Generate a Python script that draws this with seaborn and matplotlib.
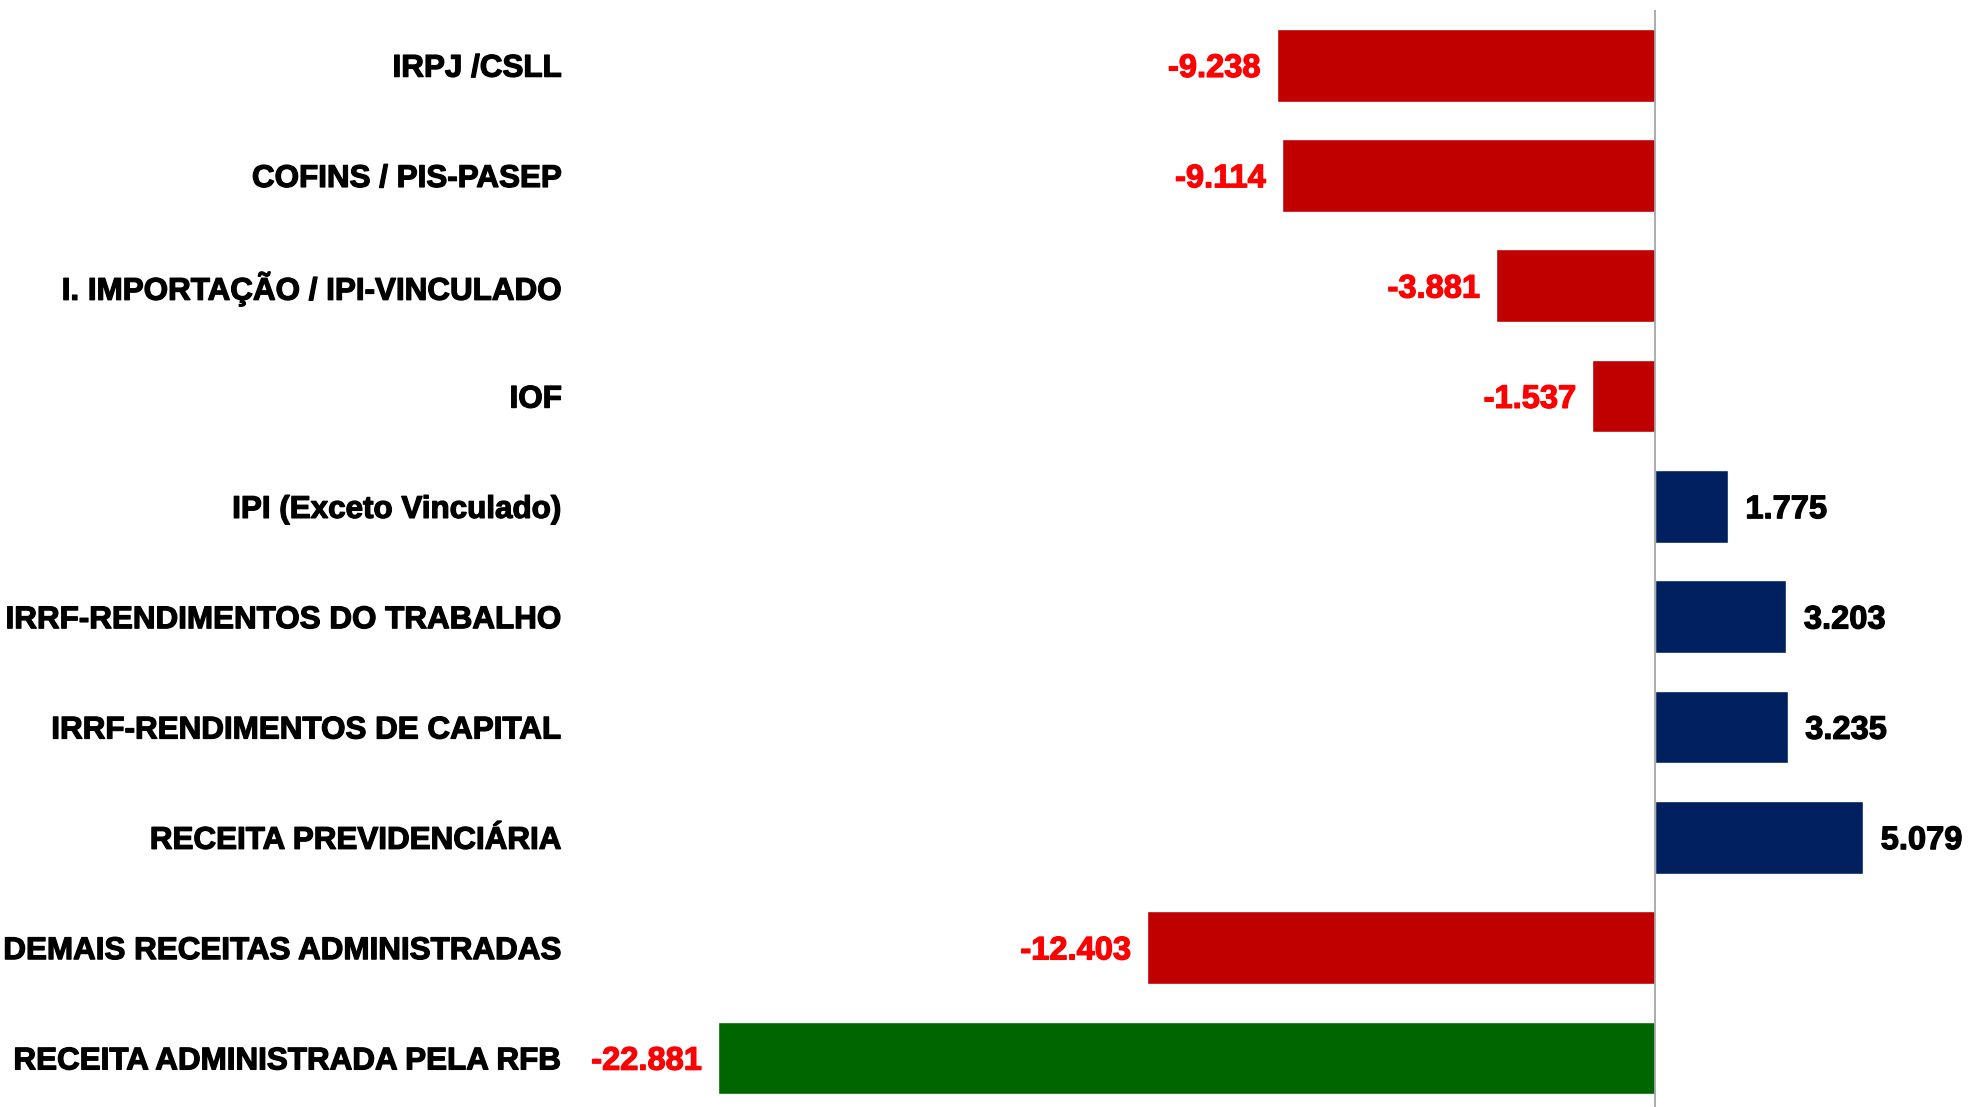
import matplotlib
matplotlib.use("Agg")
import matplotlib.pyplot as plt
import matplotlib.patheffects as pe
import seaborn as sns
import pandas as pd

# variação da arrecadação por tributo (R$ milhões)
categorias = [
    "IRPJ /CSLL",
    "COFINS / PIS-PASEP",
    "I. IMPORTAÇÃO / IPI-VINCULADO",
    "IOF",
    "IPI (Exceto Vinculado)",
    "IRRF-RENDIMENTOS DO TRABALHO",
    "IRRF-RENDIMENTOS DE CAPITAL",
    "RECEITA PREVIDENCIÁRIA",
    "DEMAIS RECEITAS ADMINISTRADAS",
    "RECEITA ADMINISTRADA PELA RFB",
]
valores = [-9.238, -9.114, -3.881, -1.537, 1.775, 3.203, 3.235, 5.079, -12.403, -22.881]
rotulos = ["-9.238", "-9.114", "-3.881", "-1.537", "1.775", "3.203", "3.235", "5.079", "-12.403", "-22.881"]

VERMELHO, AZUL, VERDE = "#C00000", "#002060", "#006600"
cores = [VERMELHO if v < 0 else AZUL for v in valores]
cores[-1] = VERDE

df = pd.DataFrame({"cat": categorias, "val": valores})

sns.set_style("white")
plt.rcParams["font.family"] = ["Liberation Sans", "DejaVu Sans"]

fig = plt.figure(figsize=(19.68, 11.07), dpi=100)
ax = fig.add_axes([580 / 1968, 0.0, 1388 / 1968, 1097 / 1107])

sns.barplot(data=df, x="val", y="cat", hue="cat", palette=cores, orient="h",
            width=0.66, legend=False, ax=ax, saturation=1)

ax.axvline(0, color="#A6A6A6", lw=1.3, zorder=5)
ax.set_xlim(-26.25, 7.64)
ax.set_ylim(9.445, -0.5)

for i, (v, txt) in enumerate(zip(valores, rotulos)):
    cor = "#FF0000" if v < 0 else "black"
    t = ax.text(v - 0.4 if v < 0 else v + 0.43, i + 0.03, txt,
                ha="right" if v < 0 else "left", va="center", color=cor,
                fontsize=23.5, fontweight="bold")
    t.set_path_effects([pe.withStroke(linewidth=0.9, foreground=cor)])

ax.set_xlabel("")
ax.set_ylabel("")
ax.set_xticks([])
ax.tick_params(axis="y", length=0, pad=13)
for lab in ax.get_yticklabels():
    lab.set_fontsize(22.6)
    lab.set_fontweight("bold")
    lab.set_color("black")
    lab.set_path_effects([pe.withStroke(linewidth=0.9, foreground="black")])
for s in ax.spines.values():
    s.set_visible(False)

fig.savefig("out.png", dpi=100)
